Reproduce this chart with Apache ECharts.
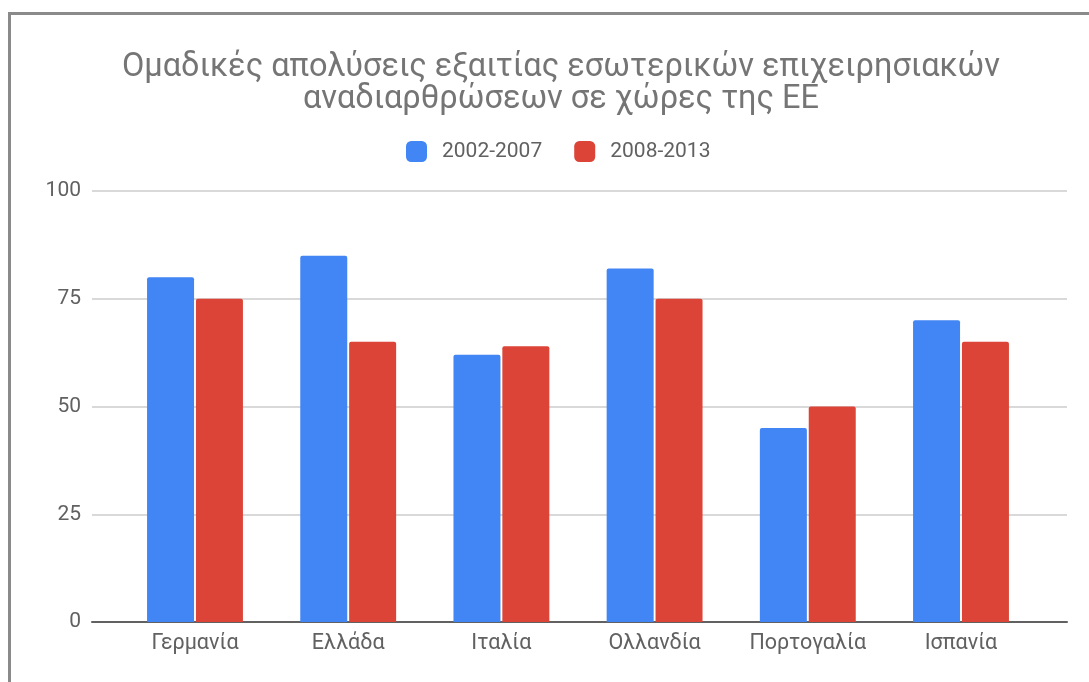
<!DOCTYPE html>
<html>
<head>
<meta charset="utf-8">
<script src="https://cdn.jsdelivr.net/npm/echarts@6/dist/echarts.min.js"></script>
<style>
html,body{margin:0;padding:0;background:#fff;}
#chart{width:1089px;height:682px;}
</style>
</head>
<body>
<div id="chart"></div>
<script>
const categories = ['Γερμανία', 'Ελλάδα', 'Ιταλία', 'Ολλανδία', 'Πορτογαλία', 'Ισπανία'];
const series2002_2007 = [80, 85, 62, 82, 45, 70];
const series2008_2013 = [75, 65, 64, 75, 50, 65];
const yTicks = [0, 25, 50, 75, 100];
const seriesNames = ['2002-2007', '2008-2013'];
const titleText = 'Ομαδικές απολύσεις εξαιτίας εσωτερικών επιχειρησιακών\nαναδιαρθρώσεων σε χώρες της ΕΕ';

const chart = echarts.init(document.getElementById('chart'), null, {renderer: 'canvas'});
const font = 'Roboto';
const option = {
  backgroundColor: '#fff',
  animation: false,
  textStyle: {fontFamily: font},
  title: {
    text: titleText,
    left: 556,
    top: 47,
    textAlign: 'center',
    textStyle: {fontFamily: font, fontSize: 32.5, fontWeight: 'normal', color: '#757575', lineHeight: 32}
  },
  legend: {
    data: seriesNames,
    left: 401,
    top: 136,
    itemWidth: 21,
    itemHeight: 21,
    itemGap: 32,
    icon: 'roundRect',
    textStyle: {fontFamily: font, fontSize: 21, color: '#616161', padding: [0, 0, 0, 10]}
  },
  graphic: [{
    type: 'polyline',
    shape: {points: [[9.5, 682], [9.5, 13.5], [1089, 13.5]]},
    style: {stroke: '#8a8a8a', lineWidth: 3, fill: null},
    silent: true
  }],
  grid: [
    {left: 92, right: 22, top: 191, bottom: 60},
    {left: 118.4, right: 51.4, top: 191, bottom: 60}
  ],
  xAxis: [
    {
      gridIndex: 0, type: 'category', data: [''],
      axisLine: {show: true, lineStyle: {color: '#616161', width: 2}},
      axisTick: {show: false}, axisLabel: {show: false}, splitLine: {show: false}
    },
    {
      gridIndex: 1, type: 'category', data: categories,
      axisLine: {show: false}, axisTick: {show: false}, splitLine: {show: false},
      axisLabel: {fontFamily: font, fontSize: 21.5, color: '#616161', margin: 11}
    }
  ],
  yAxis: [
    {
      gridIndex: 0, type: 'value', min: 0, max: 100, interval: 25,
      axisLine: {show: false}, axisTick: {show: false},
      axisLabel: {fontFamily: font, fontSize: 21, color: '#616161', margin: 11,
        formatter: v => yTicks.includes(v) ? String(v) : ''},
      splitLine: {show: true, lineStyle: {color: '#cccccc', width: 1.5}}
    },
    {
      gridIndex: 1, type: 'value', min: 0, max: 100, interval: 25, show: false,
      splitLine: {show: false}
    }
  ],
  series: [
    {
      name: seriesNames[0], type: 'bar', xAxisIndex: 1, yAxisIndex: 1,
      data: series2002_2007, barWidth: 47, barGap: '4%',
      itemStyle: {color: '#4285f4', borderRadius: [2, 2, 0, 0]}
    },
    {
      name: seriesNames[1], type: 'bar', xAxisIndex: 1, yAxisIndex: 1,
      data: series2008_2013, barWidth: 47, barGap: '4%',
      itemStyle: {color: '#db4437', borderRadius: [2, 2, 0, 0]}
    }
  ]
};
chart.setOption(option);
</script>
</body>
</html>
